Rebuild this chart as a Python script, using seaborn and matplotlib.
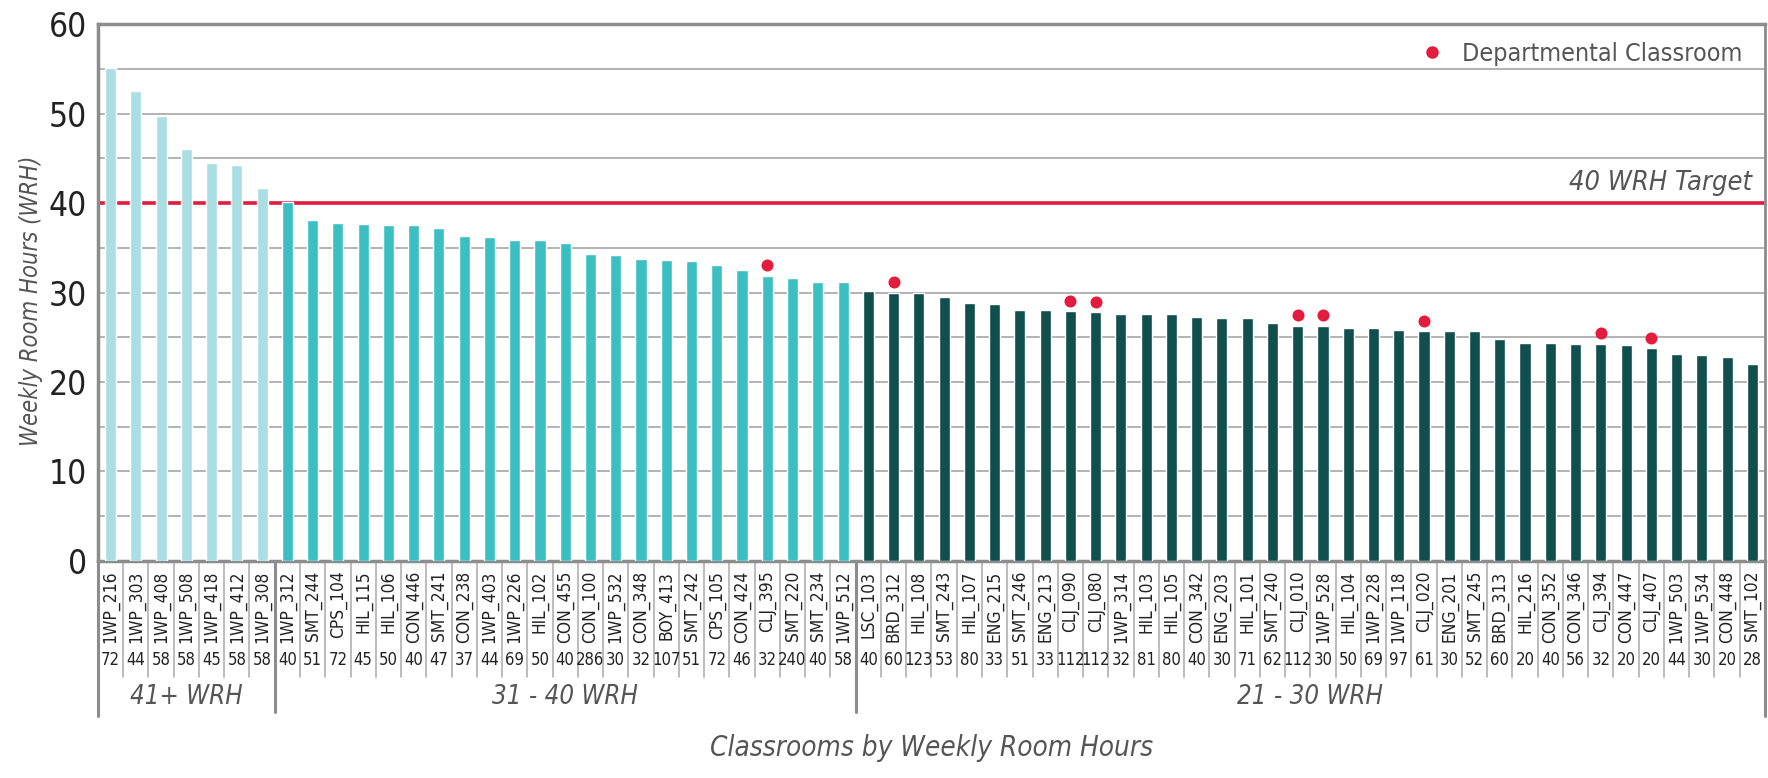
import numpy as np
import pandas as pd
import matplotlib
matplotlib.use('Agg')
import matplotlib.pyplot as plt
import matplotlib.transforms as mtransforms
from matplotlib import font_manager as fm
from matplotlib.lines import Line2D
import seaborn as sns

# Rooms sorted by weekly room hours
rooms = ['1WP_216', '1WP_303', '1WP_408', '1WP_508', '1WP_418', '1WP_412', '1WP_308',
         '1WP_312', 'SMT_244', 'CPS_104', 'HIL_115', 'HIL_106', 'CON_446', 'SMT_241', 'CON_238',
         '1WP_403', '1WP_226', 'HIL_102', 'CON_455', 'CON_100', '1WP_532', 'CON_348', 'BOY_413',
         'SMT_242', 'CPS_105', 'CON_424', 'CLJ_395', 'SMT_220', 'SMT_234', '1WP_512',
         'LSC_103', 'BRD_312', 'HIL_108', 'SMT_243', 'HIL_107', 'ENG_215', 'SMT_246', 'ENG_213',
         'CLJ_090', 'CLJ_080', '1WP_314', 'HIL_103', 'HIL_105', 'CON_342', 'ENG_203', 'HIL_101',
         'SMT_240', 'CLJ_010', '1WP_528', 'HIL_104', '1WP_228', '1WP_118', 'CLJ_020', 'ENG_201',
         'SMT_245', 'BRD_313', 'HIL_216', 'CON_352', 'CON_346', 'CLJ_394', 'CON_447', 'CLJ_407',
         '1WP_503', '1WP_534', 'CON_448', 'SMT_102']

capacity = [72, 44, 58, 58, 45, 58, 58,
            40, 51, 72, 45, 50, 40, 47, 37, 44, 69, 50, 40, 286, 30, 32, 107, 51, 72, 46, 32, 240, 40, 58,
            40, 60, 123, 53, 80, 33, 51, 33, 112, 112, 32, 81, 80, 40, 30, 71, 62, 112, 30, 50, 69, 97,
            61, 30, 52, 60, 20, 40, 56, 32, 20, 20, 44, 30, 20, 28]

wrh = [55.1, 52.5, 49.7, 46.0, 44.5, 44.3, 41.7,
       40.1, 38.1, 37.8, 37.7, 37.6, 37.6, 37.2, 36.3, 36.2, 35.9, 35.9, 35.5, 34.3, 34.2, 33.8,
       33.6, 33.5, 33.1, 32.5, 31.9, 31.6, 31.2, 31.2,
       30.2, 30.0, 30.0, 29.45, 28.8, 28.7, 28.1, 28.1, 27.9, 27.8, 27.65, 27.65, 27.65, 27.3,
       27.1, 27.1, 26.6, 26.3, 26.3, 26.0, 26.0, 25.8, 25.65, 25.65, 25.65, 24.75, 24.4, 24.4,
       24.3, 24.3, 24.1, 23.75, 23.1, 23.0, 22.8, 22.0]

departmental = ['CLJ_395', 'BRD_312', 'CLJ_090', 'CLJ_080', 'CLJ_010', '1WP_528',
                'CLJ_020', 'CLJ_394', 'CLJ_407']

group_names = ['41+ WRH', '31 - 40 WRH', '21 - 30 WRH']
group_sizes = [7, 23, 36]
group_colors = ['#abdee2', '#3bbfc3', '#114e4e']
target = 40

df = pd.DataFrame({'room': rooms, 'wrh': wrh, 'capacity': capacity})
df['group'] = np.repeat(group_names, group_sizes)

sns.set_style('white')

# look for a narrow font, the original uses a condensed face
family, stretch = 'Roboto', 'normal'
narrow = [f for f in fm.fontManager.ttflist
          if ('Narrow' in f.fname or 'Condensed' in f.fname)
          and f.style == 'normal' and f.weight in (400, 'normal', 'regular')]
narrow.sort(key=lambda f: (0 if 'Liberation' in f.fname else 1))
if narrow:
    family, stretch = narrow[0].name, narrow[0].stretch
plt.rcParams['font.family'] = [family, 'DejaVu Sans']
plt.rcParams['font.stretch'] = stretch

fig = plt.figure(figsize=(17.68, 7.78), dpi=100)
ax = fig.add_axes([0.0554, 0.279, 0.9429, 0.690])

sns.barplot(data=df, x='room', y='wrh', hue='group', palette=group_colors, saturation=1,
            dodge=False, width=0.44, legend=False, ax=ax, zorder=3)

# departmental classroom dots
idx = [rooms.index(r) for r in departmental]
ax.scatter(idx, [wrh[i] + 1.15 for i in idx], s=75, color='#e31b3c', zorder=4, linewidths=0)

# target line
ax.axhline(target, color='#e31b3c', lw=2.6, zorder=2)
ax.text(0.992, target + 0.8, '40 WRH Target',
        transform=mtransforms.blended_transform_factory(ax.transAxes, ax.transData),
        ha='right', va='bottom', fontsize=19.5, style='italic', color='#555555')

ax.set_ylim(0, 60)
ax.set_xlim(-0.5, len(rooms) - 0.5)
ax.set_yticks(range(0, 61, 10))
ax.set_yticks(range(5, 60, 10), minor=True)
ax.grid(axis='y', which='both', color='#a6a6a6', lw=1.2, zorder=0)
ax.set_axisbelow(True)
ax.tick_params(axis='y', which='both', length=0, labelsize=24, labelcolor='#222222', pad=8)
ax.tick_params(axis='x', length=0, pad=7)
plt.setp(ax.get_xticklabels(), rotation=90, fontsize=12.5, color='#222222', va='top')

for side in ['left', 'top', 'bottom', 'right']:
    ax.spines[side].set_visible(True)
    ax.spines[side].set_color('#8c8c8c')
    ax.spines[side].set_linewidth(2.5)
ax.spines['right'].set_linewidth(2)

ax.set_xlabel('')
ax.set_ylabel('Weekly Room Hours (WRH)', fontsize=17, style='italic', color='#555555')
ax.yaxis.set_label_coords(-0.033, 0.485)
fig.text(0.527, 0.021, 'Classrooms by Weekly Room Hours', ha='center', va='bottom',
         fontsize=20, style='italic', color='#555555')

# capacity row and separators below the axis
trans = mtransforms.blended_transform_factory(ax.transData, ax.transAxes)
for i, c in enumerate(capacity):
    ax.text(i, -0.184, str(c), transform=trans, ha='center', va='center', fontsize=12, color='#222222')
for i in range(1, len(rooms)):
    ax.plot([i - 0.5, i - 0.5], [0, -0.216], transform=trans, color='#b0b0b0', lw=1.2, clip_on=False)

edges = np.cumsum([0] + group_sizes) - 0.5
for k, e in enumerate(edges):
    bottom = -0.289 if k in (0, len(edges) - 1) else -0.281
    ax.plot([e, e], [0, bottom], transform=trans, color='#8c8c8c', lw=2.2, clip_on=False, zorder=5)
for k, name in enumerate(group_names):
    ax.text((edges[k] + edges[k + 1]) / 2, -0.253, name, transform=trans, ha='center', va='center',
            fontsize=18.5, style='italic', color='#555555')

handle = Line2D([], [], marker='o', color='#e31b3c', linestyle='none', markersize=8)
leg = ax.legend([handle], ['Departmental Classroom'], loc='upper right', frameon=False,
                fontsize=18, handletextpad=0.2, borderaxespad=0.3, bbox_to_anchor=(0.997, 1.0))
for t in leg.get_texts():
    t.set_color('#555555')

fig.savefig('out.png', dpi=100)
